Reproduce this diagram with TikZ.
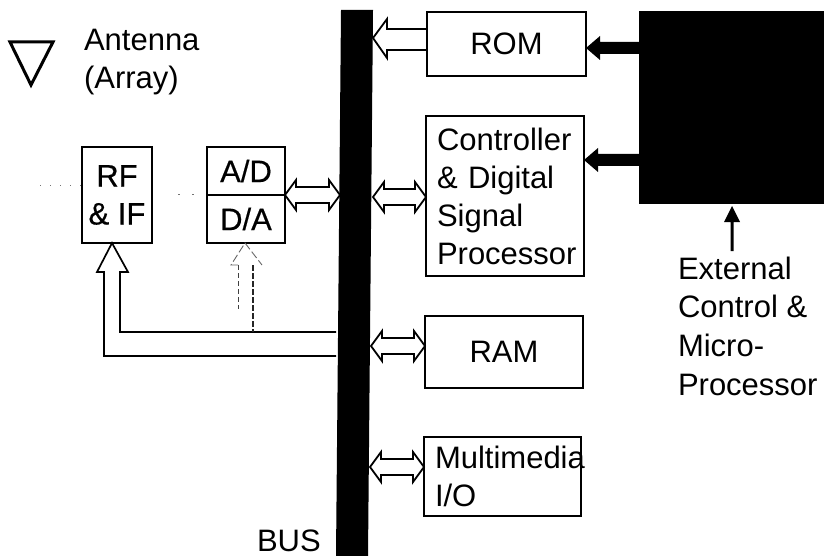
\documentclass[tikz,border=0pt]{standalone}
\usepackage{fontspec}
\setmainfont{Liberation Sans}
\newfontfamily\heavy{Liberation Sans}[FakeBold=0.5]
\usetikzlibrary{calc}
\newcommand{\dblarrow}[2]{%
  \draw[blockline] (#1)
    -- ($(#1)+(11,-15)$) -- ($(#1)+(11,-8)$)
    -- ($(#2)+(-11,-8)$) -- ($(#2)+(-11,-15)$) -- (#2)
    -- ($(#2)+(-11,15)$) -- ($(#2)+(-11,8)$)
    -- ($(#1)+(11,8)$) -- ($(#1)+(11,15)$) -- cycle;}
\newcommand{\solidarrow}[2]{%
  \fill (#1) -- ($(#1)+(14,-12)$) -- ($(#1)+(14,-6)$)
    -- ($(#2)+(0,-6)$) -- ($(#2)+(0,6)$)
    -- ($(#1)+(14,6)$) -- ($(#1)+(14,12)$) -- cycle;}
\begin{document}
\begin{tikzpicture}[x=1pt,y=-1pt,
  every node/.style={font=\fontsize{31}{38}\selectfont},
  blockline/.style={draw=black,line width=1.8pt,fill=white,line join=miter},
  thinbox/.style={draw=black,line width=1.9pt,fill=white,anchor=north west,inner sep=0pt,outer sep=0pt},
  plain/.style={anchor=base west,inner sep=0pt,outer sep=0pt},
  listbox/.style={thinbox,align=left,inner xsep=11pt,inner ysep=0pt},
  heavytext/.style={font=\fontsize{31}{38}\selectfont\heavy}]
\useasboundingbox (0,0) rectangle (824,556);

% bus and external block
\fill (341,10) -- (373,10) -- (368,556) -- (336,556) -- cycle;
\node[fill=black,anchor=north west,inner sep=0pt,outer sep=0pt,minimum width=186pt,minimum height=193pt] (ext) at (639,11) {};

% boxes
\node[thinbox,minimum width=159pt,minimum height=64pt] (rom) at (427,12) {ROM};
\node[listbox,text width=136pt,minimum height=160pt] (dsp) at (426,116)
  {Controller\\\& Digital\\Signal\\Processor};
\node[thinbox,minimum width=158pt,minimum height=72pt] (ram) at (425,316) {RAM};
\node[listbox,text width=135pt,minimum height=79pt] (mm) at (424,437)
  {\mbox{Multimedia}\\I/O};
\node[thinbox,heavytext,align=center,minimum width=70pt,minimum height=96pt] (rf) at (82,147) {RF\\\& IF};
\node[thinbox,heavytext,minimum width=78pt,minimum height=48pt] (ad) at (207,147) {A/D};
\node[thinbox,heavytext,minimum width=78pt,minimum height=48pt] (da) at (207,195) {D/A};

% antenna
\draw[line width=3pt,line join=miter] (10,42) -- (53,42) -- (31,85) -- cycle;

% labels
\node[plain] (antenna) at (84,51) {Antenna};
\node[plain] (array) at (84,89) {(Array)};
\node[plain] (bus) at (257,551) {BUS};
\node[plain] (e1) at (678,279) {External};
\node[plain] (e2) at (678,317) {Control \&};
\node[plain] (e3) at (678,356) {Micro-};
\node[plain] (e4) at (678,395) {Processor};

% connector ends on the bus
\coordinate (bRom) at (373,38);
\coordinate (bDspR) at (373,197);
\coordinate (bDspL) at (340,195);
\coordinate (bRam) at (371,346);
\coordinate (bMm) at (370,467);

% hollow arrows
\coordinate (romA) at (rom.west |- 0,29);
\coordinate (romB) at (rom.west |- 0,50);
\draw[blockline] (bRom) -- (387,19) -- (387,29) -- (romA) -- (romB) -- (387,50) -- (387,58) -- cycle;
\coordinate (adTip) at (ad.east |- 0,195);
\dblarrow{adTip}{bDspL}
\coordinate (dspTip) at (dsp.west |- 0,197);
\dblarrow{bDspR}{dspTip}
\coordinate (ramTip) at (ram.west |- 0,346);
\dblarrow{bRam}{ramTip}
\coordinate (mmTip) at (mm.west |- 0,467);
\dblarrow{bMm}{mmTip}

% solid arrows from the external block
\coordinate (romTip) at (rom.east |- 0,48);
\coordinate (extA) at (ext.west |- 0,48);
\solidarrow{romTip}{extA}
\coordinate (dspTipR) at (dsp.east |- 0,160);
\coordinate (extB) at (ext.west |- 0,160);
\solidarrow{dspTipR}{extB}

% external control arrow
\fill (732,206) -- (740,222) -- (733.5,222) -- (733.5,251) -- (730.5,251) -- (730.5,222) -- (724,222) -- cycle;

% bus feed to RF and IF
\draw[line width=1.7pt,line join=miter] (336,332) -- (120,332) -- (120,272) -- (128,272) -- (rf.south -| 112,0) -- (97,272) -- (104,272) -- (104,356) -- (336,356);

% dashed feed to D/A
\draw[line width=1pt,dash pattern=on 5pt off 3pt,black!75] (238,265) -- (238,309);
\draw[line width=1.3pt,dash pattern=on 6pt off 2pt,black!85] (253,265) -- (253,332);
\draw[line width=0.9pt,dash pattern=on 8pt off 3pt,black!60] (238,265) -- (231,265) -- (da.south -| 245,0) -- (262,265);

% faint traces of the antenna lines
\draw[line width=1pt,black!55,dash pattern=on 1pt off 9pt] (40,186) -- (rf.west |- 0,186);
\draw[line width=1pt,black!55,dash pattern=on 2pt off 12pt] (178,195) -- (200,195);
\end{tikzpicture}
\end{document}
